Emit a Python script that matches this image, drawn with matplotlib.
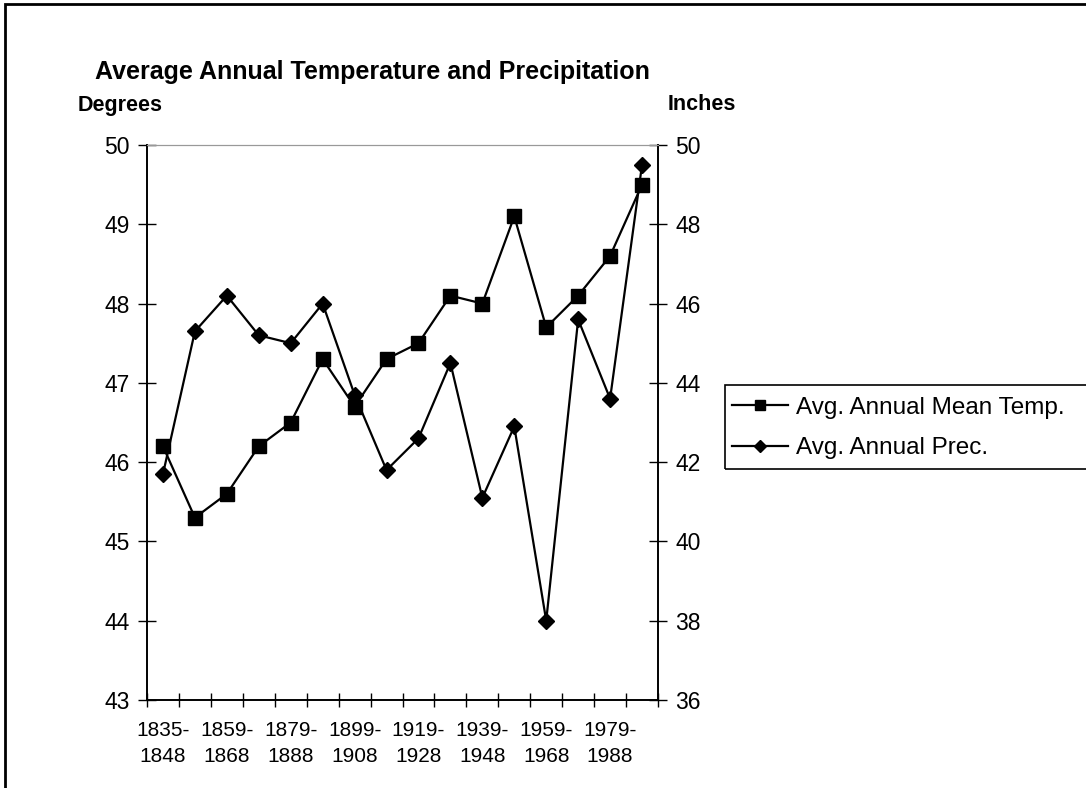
import numpy as np
import matplotlib
matplotlib.use('Agg')
import matplotlib.pyplot as plt
from matplotlib.patches import Rectangle
from matplotlib.lines import Line2D

plt.rcParams['font.family'] = ['Liberation Sans', 'DejaVu Sans']

periods = ['1835-\n1848', '1849-\n1858', '1859-\n1868', '1869-\n1878',
           '1879-\n1888', '1889-\n1898', '1899-\n1908', '1909-\n1918',
           '1919-\n1928', '1929-\n1938', '1939-\n1948', '1949-\n1958',
           '1959-\n1968', '1969-\n1978', '1979-\n1988', '1989-\n1998']
mean_temp = [46.2, 45.3, 45.6, 46.2, 46.5, 47.3, 46.7, 47.3,
             47.5, 48.1, 48.0, 49.1, 47.7, 48.1, 48.6, 49.5]
precip = [41.7, 45.3, 46.2, 45.2, 45.0, 46.0, 43.7, 41.8,
          42.6, 44.5, 41.1, 42.9, 38.0, 45.6, 43.6, 49.5]

W, H = 1086, 788
fig = plt.figure(figsize=(W / 100, H / 100), dpi=100)

# plot area in pixels: x 147..658, y 145..700
ax = fig.add_axes([147 / W, 1 - 700 / H, (658 - 147) / W, (700 - 145) / H])
ax2 = ax.twinx()

x = np.arange(len(periods))
ax.plot(x, mean_temp, color='black', lw=1.6, marker='s', ms=9.5,
        label='Avg. Annual Mean Temp.')
ax2.plot(x, precip, color='black', lw=1.6, marker='D', ms=8.5,
         label='Avg. Annual Prec.')

ax.set_xlim(-0.5, len(periods) - 0.5)
ax.set_ylim(43, 50)
ax2.set_ylim(36, 50)
ax.set_yticks(range(43, 51))
ax2.set_yticks(range(36, 51, 2))

# category boundaries get the tick marks, every other category a label
ax.set_xticks(np.arange(-0.5, len(periods)), minor=False)
ax.set_xticklabels([])
ax.set_xticks(x[::2], minor=True)
ax.set_xticklabels(periods[::2], minor=True, fontsize=15, linespacing=1.5)
ax.tick_params(axis='x', which='major', direction='inout', length=10, width=1)
ax.tick_params(axis='x', which='minor', length=0, pad=15)

ax.tick_params(axis='y', direction='inout', length=13, width=1,
               labelsize=16.5, pad=6)
ax2.tick_params(axis='y', direction='inout', length=13, width=1,
                labelsize=16.5, pad=6)

for a in (ax, ax2):
    a.spines['top'].set_color('#999999')
    a.spines['left'].set_linewidth(1.2)
    a.spines['right'].set_linewidth(1.2)
    a.spines['bottom'].set_linewidth(1.2)

fig.text(95 / W, 1 - 72 / H, 'Average Annual Temperature and Precipitation',
         fontsize=18, fontweight='bold', va='center', ha='left')
fig.text(78 / W, 1 - 105 / H, 'Degrees', fontsize=15.5, fontweight='bold',
         va='center', ha='left')
fig.text(668 / W, 1 - 105 / H, 'Inches', fontsize=15.5, fontweight='bold',
         va='center', ha='left')

# legend frame runs off the right edge like the original
fig.patches.append(Rectangle((725 / W, 1 - 469 / H), 400 / W, 84 / H,
                             transform=fig.transFigure, fill=False,
                             edgecolor='black', lw=1.2))
handles = [Line2D([], [], color='black', lw=1.6, marker='s', ms=6.5),
           Line2D([], [], color='black', lw=1.6, marker='D', ms=6)]
fig.legend(handles, ['Avg. Annual Mean Temp.', 'Avg. Annual Prec.'],
           loc='upper left', bbox_to_anchor=(727 / W, 1 - 392 / H),
           frameon=False, fontsize=17.5, handlelength=2.3,
           handletextpad=0.35, labelspacing=0.75, borderpad=0.2,
           borderaxespad=0)

# outer chart border (only top and left edges visible)
fig.patches.append(Rectangle((5 / W, -0.1), 1.1, 1 - 4 / H + 0.1,
                             transform=fig.transFigure, fill=False,
                             edgecolor='black', lw=2))

fig.savefig('out.png', dpi=100)
